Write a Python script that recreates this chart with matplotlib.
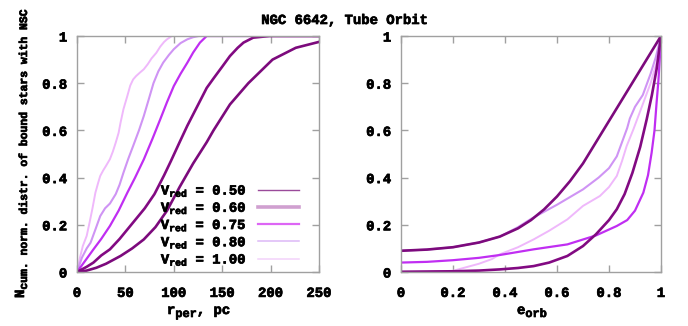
import numpy as np
import matplotlib.pyplot as plt
import matplotlib.patheffects as pe
from matplotlib.lines import Line2D

plt.rcParams['font.family'] = ['Liberation Mono', 'DejaVu Sans Mono']
plt.rcParams['font.weight'] = 'bold'
plt.rcParams['mathtext.fontset'] = 'custom'
plt.rcParams['mathtext.rm'] = 'Liberation Mono:bold'
plt.rcParams['mathtext.it'] = 'Liberation Mono:bold'
plt.rcParams['mathtext.bf'] = 'Liberation Mono:bold'

# trazo extra para que el texto salga mas grueso
grueso = [pe.withStroke(linewidth=0.5, foreground='black')]

#---------- velocity reduction factors and colours ----------
v_red = ['0.50', '0.60', '0.75', '0.80', '1.00']
colores = ['#7c0a7c', '#820a82', '#c02ef2', '#cf94f4', '#efb8fb']
leg_col = ['#9a4a9a', '#d0a0d0', '#dd66f5', '#ddb8f6', '#f3d2fb']
leg_lw = [1.0, 2.6, 1.6, 1.1, 1.1]

#---------- cumulative distribution of pericentre distances (pc) ----------
rp_050 = [0, 10, 20, 30, 45, 57, 69, 81, 93, 106, 120, 134, 141, 158, 177, 192, 202, 226, 250]
N_050 = [0, 0.006, 0.018, 0.035, 0.068, 0.10, 0.138, 0.19, 0.26, 0.36, 0.46, 0.55, 0.60, 0.71, 0.80, 0.86, 0.90, 0.95, 0.975]
rp_060 = [0, 10, 17, 25, 34, 44, 58, 70, 80, 90, 97, 106, 114, 124, 134, 141, 150, 158, 166, 172, 182, 199, 250]
N_060 = [0, 0.022, 0.04, 0.07, 0.096, 0.14, 0.21, 0.27, 0.33, 0.41, 0.47, 0.55, 0.62, 0.70, 0.78, 0.82, 0.87, 0.915, 0.95, 0.972, 0.993, 1.0, 1.0]
rp_075 = [0, 8, 17, 25, 34, 43, 52, 60, 69, 78, 86, 93, 100, 107, 114, 120, 127, 134, 250]
N_075 = [0, 0.045, 0.096, 0.14, 0.195, 0.26, 0.336, 0.40, 0.477, 0.565, 0.647, 0.72, 0.788, 0.84, 0.887, 0.93, 0.972, 1.0, 1.0]
rp_080 = [0, 5, 10, 14, 19, 24, 29, 34, 40, 44, 48, 53, 58, 64, 69, 74, 79, 84, 89, 95, 100, 107, 114, 120, 126, 250]
N_080 = [0, 0.06, 0.1, 0.124, 0.18, 0.237, 0.27, 0.29, 0.33, 0.37, 0.421, 0.48, 0.534, 0.60, 0.661, 0.73, 0.80, 0.85, 0.887, 0.92, 0.944, 0.97, 0.986, 0.995, 1.0, 1.0]
rp_100 = [0, 3, 6, 10, 13, 16, 19, 22, 24, 27, 30, 34, 37, 40, 43, 45, 48, 52, 55, 58, 61, 65, 69, 73, 77, 82, 86, 90, 93, 98, 250]
N_100 = [0, 0.06, 0.11, 0.153, 0.21, 0.27, 0.336, 0.38, 0.407, 0.43, 0.45, 0.478, 0.51, 0.548, 0.59, 0.633, 0.69, 0.746, 0.79, 0.816, 0.83, 0.845, 0.859, 0.88, 0.905, 0.929, 0.955, 0.975, 0.986, 1.0, 1.0]

#---------- cumulative distribution of orbital eccentricity ----------
e_050 = [0, 0.1, 0.2, 0.3, 0.38, 0.45, 0.5, 0.55, 0.6, 0.65, 0.7, 0.75, 0.8, 0.85, 0.9, 0.95, 1.0]
Ne_050 = [0.09, 0.095, 0.105, 0.125, 0.15, 0.185, 0.22, 0.265, 0.32, 0.385, 0.46, 0.55, 0.64, 0.73, 0.82, 0.91, 1.0]
e_060 = [0, 0.2, 0.3, 0.38, 0.45, 0.51, 0.57, 0.64, 0.7, 0.75, 0.8, 0.83, 0.86, 0.89, 0.92, 0.945, 0.965, 0.983, 1.0]
Ne_060 = [0.001, 0.003, 0.006, 0.011, 0.017, 0.025, 0.04, 0.068, 0.11, 0.16, 0.22, 0.266, 0.33, 0.42, 0.53, 0.647, 0.75, 0.859, 1.0]
e_075 = [0, 0.1, 0.2, 0.3, 0.38, 0.51, 0.64, 0.75, 0.83, 0.87, 0.9, 0.932, 0.95, 0.964, 0.975, 0.983, 0.99, 0.996, 1.0]
Ne_075 = [0.04, 0.043, 0.05, 0.06, 0.072, 0.096, 0.117, 0.155, 0.195, 0.22, 0.26, 0.336, 0.41, 0.506, 0.6, 0.717, 0.81, 0.915, 1.0]
e_080 = [0, 0.1, 0.2, 0.3, 0.38, 0.45, 0.5, 0.6, 0.7, 0.76, 0.8, 0.83, 0.85, 0.87, 0.88, 0.9, 0.93, 0.96, 0.98, 1.0]
Ne_080 = [0.09, 0.095, 0.105, 0.125, 0.15, 0.19, 0.225, 0.285, 0.35, 0.40, 0.44, 0.49, 0.55, 0.61, 0.65, 0.70, 0.75, 0.84, 0.91, 1.0]
e_100 = [0, 0.1, 0.2, 0.25, 0.3, 0.35, 0.38, 0.45, 0.51, 0.57, 0.64, 0.7, 0.765, 0.8, 0.83, 0.85, 0.868, 0.894, 0.932, 0.96, 0.983, 1.0]
Ne_100 = [0, 0.001, 0.005, 0.02, 0.035, 0.055, 0.075, 0.105, 0.138, 0.175, 0.223, 0.28, 0.322, 0.36, 0.407, 0.47, 0.534, 0.605, 0.717, 0.80, 0.887, 1.0]

rp_all = [(rp_050, N_050), (rp_060, N_060), (rp_075, N_075), (rp_080, N_080), (rp_100, N_100)]
e_all = [(e_050, Ne_050), (e_060, Ne_060), (e_075, Ne_075), (e_080, Ne_080), (e_100, Ne_100)]

W, H = 688, 326
fig = plt.figure(figsize=(W / 100, H / 100), dpi=100)
ax1 = fig.add_axes([77 / W, 1 - 272 / H, 242 / W, 236 / H])
ax2 = fig.add_axes([401 / W, 1 - 272 / H, 260 / W, 236 / H])

lw_lin = [1.9, 1.9, 1.6, 1.5, 1.4]
# dibujar de la mas clara a la mas oscura para que las oscuras queden encima
for i in range(4, -1, -1):
    ax1.plot(rp_all[i][0], rp_all[i][1], color=colores[i], lw=lw_lin[i], solid_joinstyle='round')
    ax2.plot(e_all[i][0], e_all[i][1], color=colores[i], lw=lw_lin[i], solid_joinstyle='round')

def estilo(ax, xt, xl):
    ax.set_ylim(0, 1)
    ax.set_xticks(xt)
    ax.set_xticklabels(xl)
    ax.set_yticks([0, 0.2, 0.4, 0.6, 0.8, 1])
    ax.set_yticklabels(['0', '0.2', '0.4', '0.6', '0.8', '1'])
    ax.tick_params(direction='in', length=5, width=1, color='#a0a0a0', labelsize=10,
                   top=True, right=True, pad=10)
    ax.tick_params(axis='y', pad=7)
    for s in ax.spines.values():
        s.set_color('#a0a0a0')
        s.set_linewidth(1)
    for t in ax.get_xticklabels() + ax.get_yticklabels():
        t.set_fontweight('bold')
        t.set_path_effects(grueso)

ax1.set_xlim(0, 250)
estilo(ax1, [0, 50, 100, 150, 200, 250], ['0', '50', '100', '150', '200', '250'])
ax2.set_xlim(0, 1)
estilo(ax2, [0, 0.2, 0.4, 0.6, 0.8, 1], ['0', '0.2', '0.4', '0.6', '0.8', '1'])

# leyenda estilo gnuplot: texto a la izquierda, muestra a la derecha
handles = [Line2D([], [], color=leg_col[i], lw=leg_lw[i]) for i in range(5)]
labels = [r'V$_{\mathrm{red}}$ = ' + v for v in v_red]
leg = ax1.legend(handles, labels, loc='lower right', bbox_to_anchor=(0.945, -0.012),
                 frameon=False, markerfirst=False, fontsize=10, handlelength=2.95,
                 handletextpad=0.8, labelspacing=0.06, borderpad=0)
for t in leg.get_texts():
    t.set_path_effects(grueso)

# texto con subindices (fuente monoespaciada: avance = 0.6 em)
def texto_sub(partes, x, y, rot=0):
    pos = 0.0
    for s, size, baja in partes:
        if rot == 0:
            fig.text((x + pos) / W, 1 - (y + baja) / H, s, fontsize=size, fontweight='bold',
                     ha='left', va='baseline', path_effects=grueso)
        else:
            fig.text((x + baja) / W, 1 - (y - pos) / H, s, fontsize=size, fontweight='bold',
                     ha='left', va='baseline', rotation=90, rotation_mode='anchor',
                     path_effects=grueso)
        pos += len(s) * 0.6 * size * 100 / 72

texto_sub([('N', 10, 0), ('cum. norm. distr. of bound stars with NSC', 8.2, 3)], 24, 298, rot=90)
texto_sub([('r', 10, 0), ('per', 8.6, 3), (', pc', 10, 0)], 167, 314)
texto_sub([('e', 10, 0), ('orb', 8.6, 3)], 517, 314)

fig.text(345 / W, 1 - 20 / H, 'NGC 6642, Tube Orbit', fontsize=10, fontweight='bold',
         ha='center', va='center', path_effects=grueso)

fig.savefig('out.png', dpi=100)
